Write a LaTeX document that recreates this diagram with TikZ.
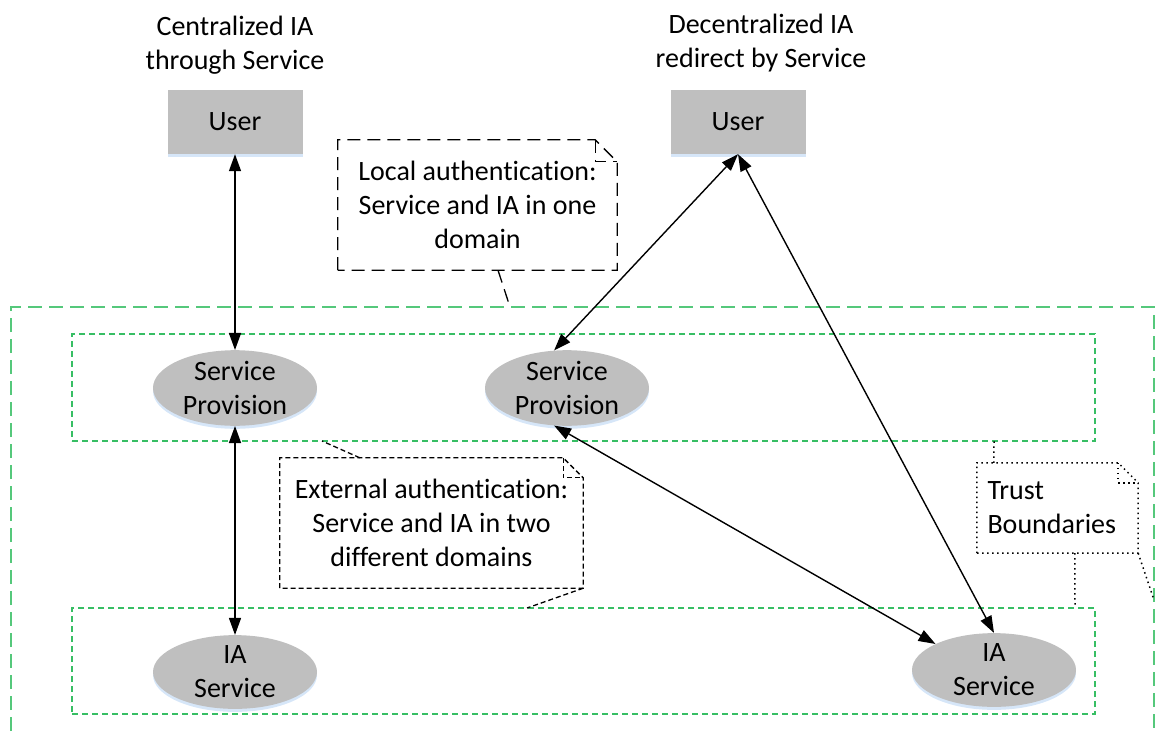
\documentclass[tikz,border=0pt]{standalone}
\usepackage{fontspec}
\setmainfont{Carlito}[Ligatures=CommonOff]
\usetikzlibrary{arrows.meta,shapes.geometric,shadows,calc}

\definecolor{boxgray}{RGB}{191,191,191}
\definecolor{glow}{RGB}{214,230,248}
\definecolor{trustgreen}{RGB}{55,190,100}

\begin{document}
\begin{tikzpicture}[x=1pt,y=-1pt,
  lbl/.style={font=\fontsize{28}{34}\selectfont, align=center, inner sep=0pt},
  userbox/.style={lbl, rectangle, fill=boxgray, minimum width=135pt, minimum height=64pt,
    drop shadow={fill=glow, opacity=1, shadow xshift=0pt, shadow yshift=-3pt}},
  proc/.style={lbl, ellipse, fill=boxgray, minimum width=164pt, minimum height=67pt,
    drop shadow={fill=glow, opacity=1, shadow xshift=0pt, shadow yshift=-3pt}},
  trustbox/.style={rectangle, draw=trustgreen, line width=1.4pt, dash pattern=on 6pt off 4pt, inner sep=0pt},
  outerframe/.style={draw=trustgreen, draw opacity=0.85, line width=2.6pt, dash pattern=on 14pt off 7pt},
  link/.style={draw=black, line width=1.4pt, {Triangle[length=17pt,width=12pt]}-{Triangle[length=17pt,width=12pt]}},
  notelong/.style={draw=black, line width=1.3pt, dash pattern=on 13pt off 7pt},
  noteshort/.style={draw=black, line width=1.3pt, dash pattern=on 5pt off 3pt},
  notedot/.style={draw=black, line width=1.5pt, dash pattern=on 1.5pt off 3.5pt}
]
\useasboundingbox (0,0) rectangle (1155,731);

% trust boundaries
\draw[outerframe] (11,731) -- (11,307) -- (1154,307) -- (1154,731);
\node[trustbox, minimum width=1023pt, minimum height=107pt] (tb1) at (583.5,387.5) {};
\node[trustbox, minimum width=1023pt, minimum height=106pt] (tb2) at (583.5,661) {};

% headings
\node[lbl] (t1) at (235,45) {Centralized IA\\through Service};
\node[lbl] (t2) at (761,43) {Decentralized IA\\redirect by Service};

% actors and services
\node[userbox] (u1) at (235,122) {User};
\node[userbox] (u2) at (738,122) {User};
\node[proc] (sp1) at (235,388) {Service\\Provision};
\node[proc] (sp2) at (567,388) {Service\\Provision};
\node[proc] (ia1) at (235,672) {IA\\Service};
\node[proc] (ia2) at (994,670) {IA\\Service};

% authentication paths
\draw[link] (u1.south) -- (sp1.north);
\draw[link] (sp1.south) -- (ia1.north);
\draw[link] (u2.south) -- (sp2.109);
\draw[link] (u2.south) -- (ia2.north);
\draw[link] (sp2.251) -- (ia2.156);

% callout: local authentication
\node[lbl, minimum width=279pt, minimum height=130pt] (c1) at (477.5,205)
  {Local authentication:\\Service and IA in one\\domain};
\draw[notelong] (c1.south west) -- (c1.north west) -- ([xshift=-22pt]c1.north east)
  -- ([yshift=-22pt]c1.north east) -- (c1.south east) -- cycle;
\draw[notelong] ([xshift=-22pt]c1.north east) |- ([yshift=-22pt]c1.north east);
\coordinate (f1) at (510,307);
\draw[notelong] ([xshift=20.5pt]c1.south) -- (f1);

% callout: external authentication
\node[lbl, minimum width=303pt, minimum height=130pt] (c2) at (431.5,523)
  {External authentication:\\Service and IA in two\\different domains};
\draw[noteshort] (c2.south west) -- (c2.north west) -- ([xshift=-20pt]c2.north east)
  -- ([yshift=-20pt]c2.north east) -- (c2.south east) -- cycle;
\draw[noteshort] ([xshift=-20pt]c2.north east) |- ([yshift=-20pt]c2.north east);
\coordinate (p2a) at (322,441);
\coordinate (p2b) at (527,608);
\draw[noteshort] ([xshift=80pt]c2.north west) -- (p2a);
\draw[noteshort] (c2.south east) -- (p2b);

% callout: trust boundaries
\node[lbl, align=left, text width=140pt, inner xsep=10.5pt, minimum height=90pt] (c3) at (1057.5,508)
  {Trust\\Boundaries};
\draw[notedot] (c3.south west) -- (c3.north west) -- ([xshift=-20pt]c3.north east)
  -- ([yshift=-20pt]c3.north east) -- (c3.south east) -- cycle;
\draw[notedot] ([xshift=-20pt]c3.north east) |- ([yshift=-20pt]c3.north east);
\coordinate (p3a) at (994,441);
\coordinate (p3b) at (1075,608);
\coordinate (p3c) at (1154,600);
\draw[notedot] ([xshift=17pt]c3.north west) -- (p3a);
\draw[notedot] ([xshift=98pt]c3.south west) -- (p3b);
\draw[notedot] (c3.south east) -- (p3c);
\end{tikzpicture}
\end{document}
